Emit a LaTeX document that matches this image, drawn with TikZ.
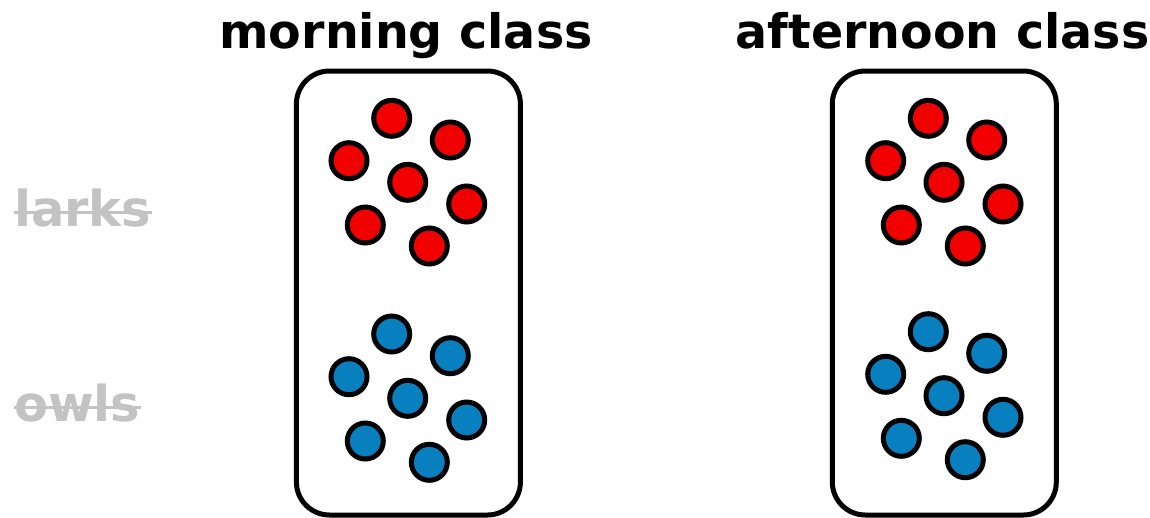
\documentclass[tikz,border=0pt]{standalone}
\usepackage{fontspec}
\setmainfont{DejaVu Sans}
\definecolor{larkred}{HTML}{F20000}
\definecolor{owlblue}{HTML}{0880BF}
\definecolor{labelgray}{HTML}{C3C3C3}
\tikzset{
  bird/.style={circle, draw=black, line width=5pt, minimum size=36pt, inner sep=0pt},
  lark/.style={bird, fill=larkred},
  owl/.style={bird, fill=owlblue},
  classbox/.style={draw=black, line width=5pt, rounded corners=33pt, minimum width=224pt, minimum height=444pt, inner sep=0pt},
  title/.style={anchor=base, inner sep=0pt, font=\fontsize{47.5}{56}\selectfont\bfseries},
  rowlabel/.style={anchor=base west, inner sep=0pt, text=labelgray, font=\fontsize{49.5}{58}\selectfont\bfseries},
  strike/.style={draw=labelgray, line width=3pt}
}
\begin{document}
\begin{tikzpicture}[x=1pt,y=-1pt]
\useasboundingbox (0,0) rectangle (1150,517);
% titles
\node[title] (t1) at (406,48) {morning class};
\node[title] (t2) at (942.5,48) {afternoon class};
% boxes
\node[classbox] (b1) at (408.4,293) {};
\node[classbox] (b2) at (944.3,293) {};
% row labels
\node[rowlabel] (larks) at (14,226) {larks};
\node[rowlabel] (owls) at (14,421) {owls};
\draw[strike] ([yshift=14pt]larks.base west) -- ([yshift=14pt]larks.base east);
\draw[strike] ([yshift=14pt]owls.base west) -- ([yshift=14pt]owls.base east);
% morning larks
\node[lark] (ml1) at (391.7,118.3) {};
\node[lark] (ml2) at (450.3,140) {};
\node[lark] (ml3) at (349,160.7) {};
\node[lark] (ml4) at (407.7,182.3) {};
\node[lark] (ml5) at (466.7,204) {};
\node[lark] (ml6) at (365.3,225) {};
\node[lark] (ml7) at (429.3,246) {};
% morning owls
\node[owl] (mo1) at (391.7,334) {};
\node[owl] (mo2) at (450.3,355.7) {};
\node[owl] (mo3) at (349,376.7) {};
\node[owl] (mo4) at (407.7,398.3) {};
\node[owl] (mo5) at (466.7,420) {};
\node[owl] (mo6) at (365.3,441) {};
\node[owl] (mo7) at (429.3,462.3) {};
% afternoon larks
\node[lark] (al1) at (928.3,118.3) {};
\node[lark] (al2) at (986.7,140) {};
\node[lark] (al3) at (885.7,160.7) {};
\node[lark] (al4) at (944,182.3) {};
\node[lark] (al5) at (1003,204) {};
\node[lark] (al6) at (901.3,225) {};
\node[lark] (al7) at (965.3,246) {};
% afternoon owls
\node[owl] (ao1) at (928.3,331.7) {};
\node[owl] (ao2) at (986.7,353.3) {};
\node[owl] (ao3) at (885.7,374.3) {};
\node[owl] (ao4) at (944,395.7) {};
\node[owl] (ao5) at (1003,417.3) {};
\node[owl] (ao6) at (901.3,438.3) {};
\node[owl] (ao7) at (965.3,459.7) {};
\end{tikzpicture}
\end{document}
